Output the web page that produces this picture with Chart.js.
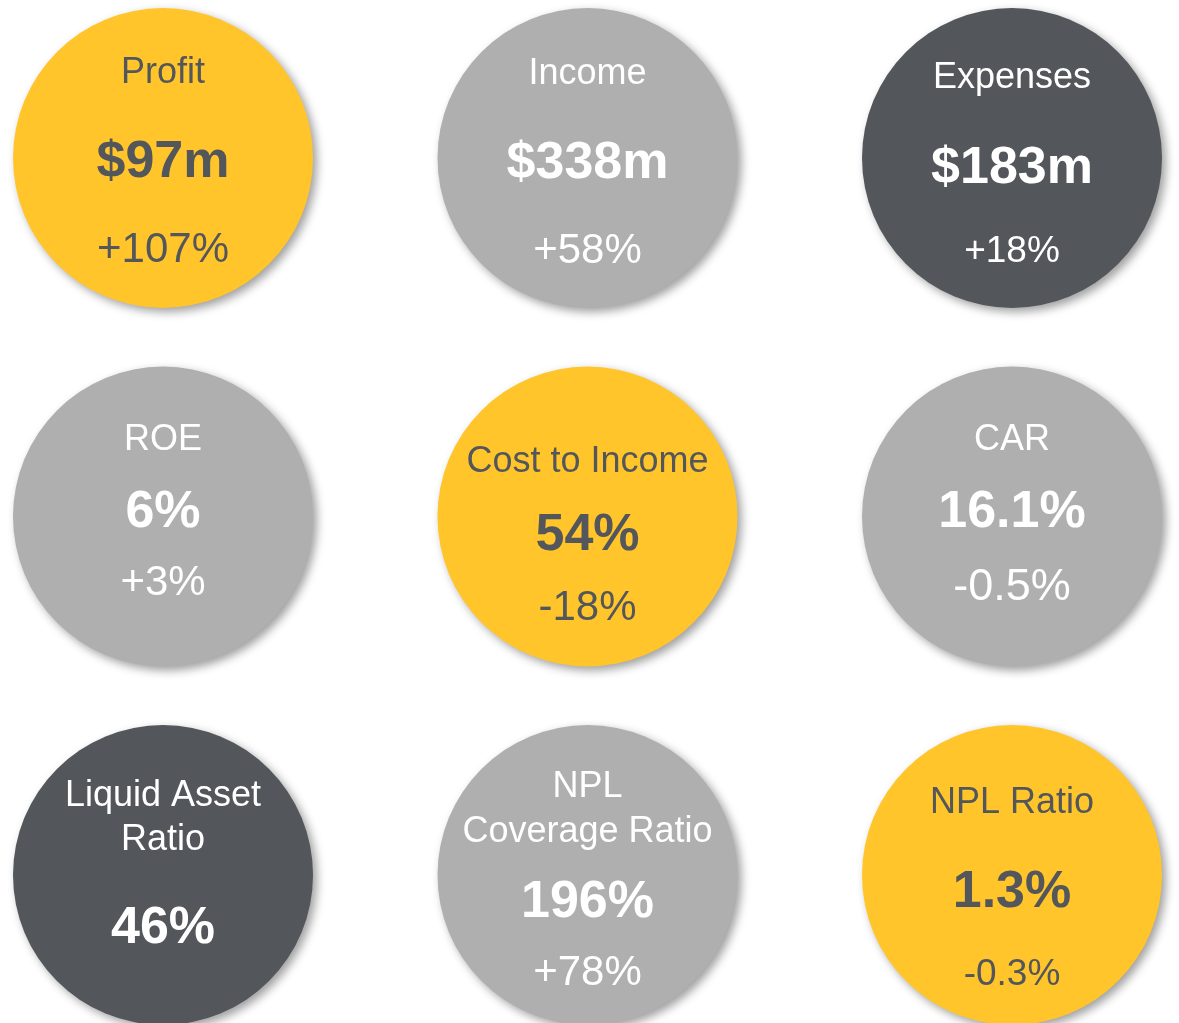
<!DOCTYPE html>
<html>
<head>
<meta charset="utf-8">
<script src="https://cdn.jsdelivr.net/npm/chart.js@4/dist/chart.umd.min.js"></script>
<style>
  html, body { margin: 0; padding: 0; background: #ffffff; overflow: hidden; }
  #wrap { position: relative; width: 1179px; height: 1023px; }
</style>
</head>
<body>
<div id="wrap"><canvas id="kpi-chart"></canvas></div>
<script>
// --- data ---
const metricNames = [
  ["Profit"], ["Income"], ["Expenses"],
  ["ROE"], ["Cost to Income"], ["CAR"],
  ["Liquid Asset", "Ratio"], ["NPL", "Coverage Ratio"], ["NPL Ratio"],
];
const metricValues = ["$97m", "$338m", "$183m", "6%", "54%", "16.1%", "46%", "196%", "1.3%"];
const metricChanges = ["+107%", "+58%", "+18%", "+3%", "-18%", "-0.5%", null, "+78%", "-0.3%"];
const gridCols = [0, 1, 2, 0, 1, 2, 0, 1, 2];
const gridRows = [0, 0, 0, 1, 1, 1, 2, 2, 2];

// --- style ---
const YELLOW = "#ffc52b";
const GREY = "#afafaf";
const DARK = "#53565a";
const WHITE = "#ffffff";
const FONT = '"Liberation Sans", Arial, sans-serif';

const fills = [YELLOW, GREY, DARK, GREY, YELLOW, GREY, DARK, GREY, YELLOW];
const inks = [DARK, WHITE, WHITE, WHITE, DARK, WHITE, WHITE, WHITE, DARK];

// baselines relative to circle centre: [name lines...], value, change
const nameBase = [[-75], [-74], [-70], [-67], [-45], [-67], [-69, -25], [-78, -33], [-62]];
const valueBase = [19, 20, 25, 10, 33, 10, 68, 42, 32];
const changeBase = [104, 105, 104, 78, 103, 83, null, 110, 110];
const changeSize = [42, 42, 37, 42, 42, 45, null, 42, 37];

const RADIUS = 150;
const W = 1179, H = 1023;
// pixel centres of first/last column and row
const colPx = [163, 1012];
const rowPx = [158, 875];

// bubble charts inset the chart area by the largest radius
function axisRange(px, size, count, inset) {
  const unit = (px[1] - px[0]) / (count - 1);
  const min = -(px[0] - inset) / unit;
  return { min, max: min + (size - 2 * inset) / unit };
}

const xRange = axisRange(colPx, W, 3, RADIUS);
const yRange = axisRange(rowPx, H, 3, RADIUS);

const shadowPlugin = {
  id: "circleShadow",
  beforeDatasetsDraw(chart) {
    const ctx = chart.ctx;
    ctx.save();
    ctx.shadowColor = "rgba(0, 0, 0, 0.38)";
    ctx.shadowBlur = 10;
    ctx.shadowOffsetX = 4;
    ctx.shadowOffsetY = 4;
  },
  afterDatasetsDraw(chart) {
    chart.ctx.restore();
  },
};

const textPlugin = {
  id: "circleText",
  afterDraw(chart) {
    const ctx = chart.ctx;
    const points = chart.getDatasetMeta(0).data;
    ctx.save();
    ctx.textAlign = "center";
    ctx.textBaseline = "alphabetic";
    points.forEach((pt, i) => {
      ctx.fillStyle = inks[i];
      ctx.font = `36px ${FONT}`;
      metricNames[i].forEach((line, j) => {
        ctx.fillText(line, pt.x, pt.y + nameBase[i][j]);
      });
      ctx.font = `bold 52px ${FONT}`;
      ctx.fillText(metricValues[i], pt.x, pt.y + valueBase[i]);
      if (metricChanges[i]) {
        ctx.font = `${changeSize[i]}px ${FONT}`;
        ctx.fillText(metricChanges[i], pt.x, pt.y + changeBase[i]);
      }
    });
    ctx.restore();
  },
};

new Chart(document.getElementById("kpi-chart"), {
  type: "bubble",
  data: {
    datasets: [
      {
        data: metricValues.map((_, i) => ({ x: gridCols[i], y: gridRows[i], r: RADIUS })),
        backgroundColor: fills,
        borderWidth: 0,
        hoverRadius: 0,
        clip: false,
      },
    ],
  },
  options: {
    responsive: true,
    maintainAspectRatio: false,
    animation: false,
    events: [],
    layout: { padding: 0 },
    plugins: {
      legend: { display: false },
      tooltip: { enabled: false },
    },
    scales: {
      x: { type: "linear", display: false, min: xRange.min, max: xRange.max },
      y: { type: "linear", display: false, reverse: true, min: yRange.min, max: yRange.max },
    },
  },
  plugins: [shadowPlugin, textPlugin],
});
</script>
</body>
</html>
